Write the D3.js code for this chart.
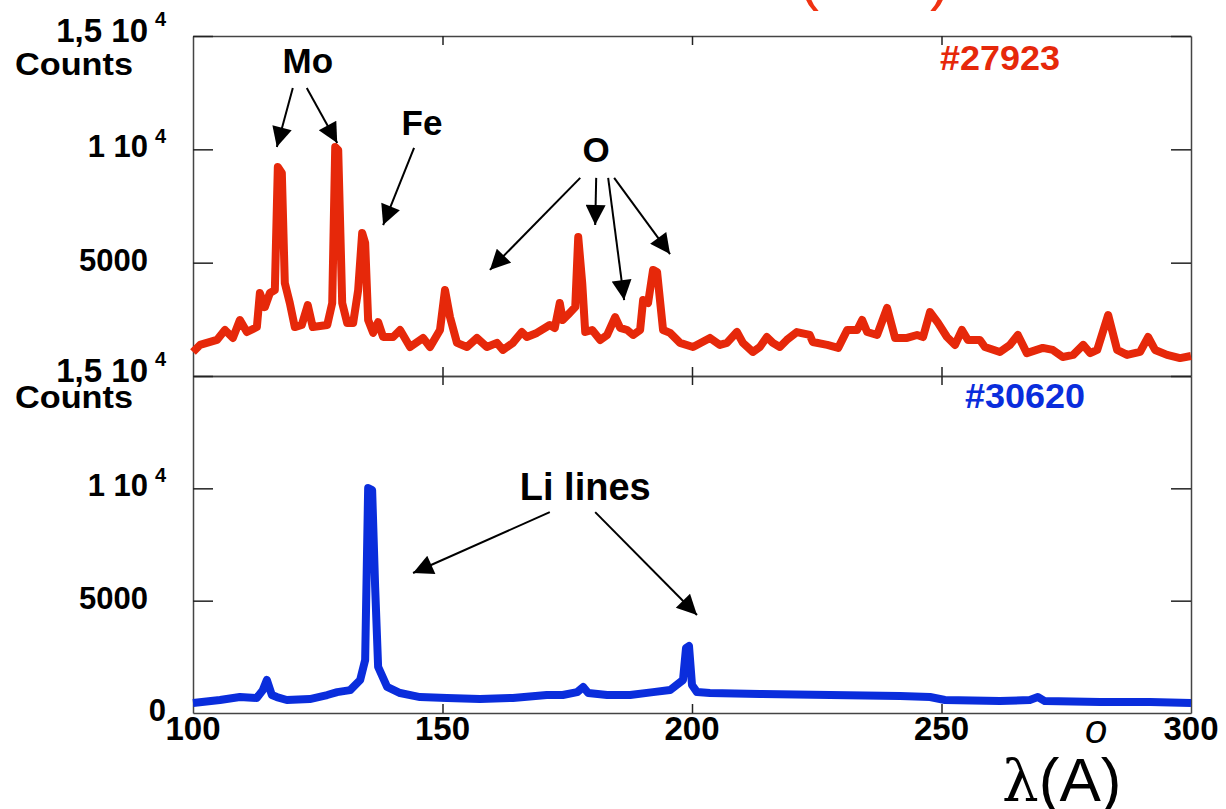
<!DOCTYPE html>
<html>
<head>
<meta charset="utf-8">
<script src="https://cdn.jsdelivr.net/npm/d3@7"></script>
<style>
  body { margin: 0; background: #fff; }
  svg { display: block; }
  text { font-family: "Liberation Sans", Arial, sans-serif; }
</style>
</head>
<body>
<script>
// spectra: wavelength (A) and counts
let redLambda = [100.0, 101.4, 104.8, 106.4, 108.0, 109.4, 110.8, 112.8, 113.4, 114.4, 115.4, 116.4, 117.0, 117.8,
  118.4, 119.4, 120.4, 121.8, 123.0, 124.0, 126.9, 127.9, 128.5, 129.1, 129.9, 130.9, 132.1, 133.1, 133.9, 134.5,
  135.1, 136.1, 137.1, 138.1, 140.1, 141.5, 143.5, 146.1, 147.5, 149.5, 150.5, 151.5, 152.9, 154.9, 156.9, 158.9,
  160.9, 162.1, 164.1, 165.9, 166.9, 168.9, 171.5, 172.5, 173.5, 174.1, 175.1, 176.6, 177.2, 178.0, 178.6, 180.0,
  181.6, 183.0, 184.6, 185.6, 187.0, 188.2, 189.6, 190.2, 191.2, 192.2, 193.0, 194.2, 195.6, 197.6, 200.2, 203.6,
  205.6, 207.0, 209.0, 210.2, 212.2, 213.6, 215.0, 216.2, 217.6, 219.0, 221.0, 223.6, 224.2, 227.1, 229.3, 231.1,
  233.1, 234.1, 235.1, 237.1, 239.1, 240.7, 243.1, 245.1, 246.3, 247.7, 249.3, 251.1, 252.7, 254.1, 255.3, 257.7,
  258.7, 261.7, 263.7, 265.3, 267.1, 270.3, 272.3, 274.3, 276.4, 278.4, 279.8, 281.2, 283.4, 285.2, 287.2, 289.8,
  291.4, 292.8, 295.2, 297.8, 300.0]
let redCounts = [1060, 1370, 1590, 2030, 1680, 2470, 1940, 2160, 3660, 3040, 3660, 3790, 9220, 8960,
  4100, 3220, 2160, 2250, 3130, 2160, 2250, 3220, 10100, 9970, 3220, 2340, 2340, 3790, 6310, 5870,
  2470, 1900, 2380, 1720, 1720, 2030, 1280, 1680, 1280, 2030, 3790, 2600, 1460, 1280, 1680, 1280,
  1460, 1150, 1460, 1940, 1720, 1900, 2250, 2120, 3220, 2470, 2690, 3040, 6130, 4100, 1940, 2030,
  1590, 1810, 2600, 2120, 2030, 1810, 2030, 3350, 3220, 4680, 4590, 2030, 1900, 1460, 1280, 1680,
  1370, 1460, 1940, 1460, 1060, 1280, 1720, 1460, 1280, 1590, 1940, 1810, 1500, 1370, 1240, 2030,
  2030, 2470, 1940, 1810, 3000, 1680, 1680, 1810, 1720, 2820, 2340, 1720, 1370, 2030, 1590, 1590,
  1280, 1060, 1370, 1810, 1010, 1240, 1150, 840, 930, 1370, 1010, 1150, 2690, 1150, 930, 1060,
  1720, 1150, 930, 790, 880]

let blueLambda = [100.0, 105.4, 109.4, 112.8, 114.0, 114.8, 115.8, 116.8, 118.8, 123.4, 126.9, 128.9, 131.5,
  133.5, 134.5, 135.1, 135.9, 136.5, 137.1, 138.9, 141.5, 145.5, 150.9, 157.5, 164.1, 170.9, 174.1, 177.0,
  178.2, 179.2, 183.0, 187.6, 192.2, 195.6, 198.2, 198.8, 199.4, 200.0, 201.0, 203.6, 213.6, 227.7, 241.7,
  247.7, 250.7, 261.7, 267.7, 269.3, 270.7, 281.8, 291.8, 300.0]
let blueCounts = [445, 580, 710, 670, 1020, 1470, 800, 710, 580, 620, 800, 930, 1020,
  1470, 2360, 10010, 9920, 5610, 2050, 1160, 890, 710, 670, 620, 670, 800, 800, 930,
  1160, 890, 800, 800, 930, 1020, 1470, 2890, 2980, 1250, 930, 890, 850, 800, 760,
  710, 580, 530, 580, 710, 530, 490, 490, 445]

let xTicks = [100, 150, 200, 250, 300]
let yTicks = [0, 5000, 10000, 15000]
let yTickText = ['0', '5000', '1 10', '1,5 10']
let yTickExp = ['', '', '4', '4']

// annotations: label, label position, arrows [from, to] in data units
let topNotes = [
  {text: 'Mo', at: [123.0, 13370], arrows: [[[120.0, 12710], [116.8, 10100]], [[122.8, 12710], [128.9, 10280]]]},
  {text: 'Fe', at: [145.9, 10630], arrows: [[[144.3, 10060], [138.1, 6660]]]},
  {text: 'O', at: [180.8, 9440], arrows: [[[177.6, 8740], [159.5, 4680]], [[180.8, 8740], [180.6, 6660]],
    [[183.2, 8740], [186.4, 3350]], [[184.4, 8740], [195.6, 5380]]]}
]
let bottomNotes = [
  {text: 'Li lines', at: [178.6, 9480], arrows: [[[171.5, 8940], [144.1, 6230]], [[180.6, 8940], [201.0, 4360]]]}
]

let width = 1226, height = 809
let red = '#e6280a', blue = '#0a2ddc'

let x = d3.scaleLinear().domain([100, 300]).range([193, 1191])
let yTop = d3.scaleLinear().domain([0, 15000]).range([376, 36])
let yBot = d3.scaleLinear().domain([0, 15000]).range([713, 376])

let svg = d3.select('body').append('svg')
  .attr('width', width)
  .attr('height', height)

svg.append('defs').append('marker')
  .attr('id', 'head')
  .attr('viewBox', '0 0 10 10')
  .attr('refX', 10).attr('refY', 5)
  .attr('markerWidth', 22).attr('markerHeight', 20)
  .attr('markerUnits', 'userSpaceOnUse')
  .attr('orient', 'auto')
  .append('path').attr('d', 'M0,0L10,5L0,10Z').attr('fill', '#000')

// cut-off red title at the very top
svg.append('text').attr('x', 799).attr('y', -1).attr('fill', '#f03212')
  .attr('font-size', 60).text('(')
svg.append('text').attr('x', 930).attr('y', -1).attr('fill', '#f03212')
  .attr('font-size', 60).text(')')

function panel(y, lam, counts, color, tag, notes, showZero) {
  let g = svg.append('g')

  let frame = (sel) => sel.selectAll('path.domain').attr('stroke', '#444').attr('stroke-width', 1.5)
  let ticks = (sel) => sel.selectAll('.tick line').attr('stroke', '#222').attr('stroke-width', 1.5)

  let inner = xTicks.slice(1, -1)
  g.append('g').attr('transform', `translate(0,${y.range()[0]})`)
    .call(d3.axisBottom(x).tickValues(inner).tickSize(-9).tickSizeOuter(0).tickFormat(''))
    .call(frame).call(ticks)
  g.append('g').attr('transform', `translate(0,${y.range()[1]})`)
    .call(d3.axisTop(x).tickValues(inner).tickSize(-9).tickSizeOuter(0).tickFormat(''))
    .call(frame).call(ticks)
  g.append('g').attr('transform', `translate(${x.range()[0]},0)`)
    .call(d3.axisLeft(y).tickValues(yTicks.slice(1)).tickSize(-20).tickSizeOuter(0).tickFormat(''))
    .call(frame).call(ticks)
  g.append('g').attr('transform', `translate(${x.range()[1]},0)`)
    .call(d3.axisRight(y).tickValues(yTicks.slice(1)).tickSize(-20).tickSizeOuter(0).tickFormat(''))
    .call(frame).call(ticks)

  // y tick labels with superscripts
  yTicks.forEach((v, i) => {
    if (i == 0 && !showZero) return
    let ty = y(v) + (i == 3 ? 6 : 8)
    let tx = i == 0 ? 166 : 148
    g.append('text').attr('x', tx).attr('y', ty).attr('text-anchor', 'end')
      .attr('font-size', i == 3 ? 33 : 31).attr('font-weight', 'bold').text(yTickText[i])
    if (yTickExp[i])
      g.append('text').attr('x', 155).attr('y', ty - (i == 3 ? 16 : 14))
        .attr('font-size', 20).attr('font-weight', 'bold').text(yTickExp[i])
    if (i == 3)
      g.append('text').attr('x', 15).attr('y', ty + (showZero ? 26 : 33))
        .attr('font-size', 32).attr('font-weight', 'bold')
        .attr('textLength', 118).attr('lengthAdjust', 'spacingAndGlyphs').text('Counts')
  })

  let line = d3.line().x((d, i) => x(lam[i])).y((d) => y(d))
  g.append('path').datum(counts)
    .attr('d', line)
    .attr('fill', 'none')
    .attr('stroke', color)
    .attr('stroke-width', 8)
    .attr('stroke-linejoin', 'round')

  g.append('text').attr('x', x(tag.at[0])).attr('y', y(tag.at[1]))
    .attr('fill', color).attr('font-size', 35).attr('font-weight', 'bold')
    .attr('textLength', 120).attr('lengthAdjust', 'spacingAndGlyphs').text(tag.text)

  notes.forEach((n) => {
    g.append('text').attr('x', x(n.at[0])).attr('y', y(n.at[1]))
      .attr('text-anchor', 'middle').attr('font-size', n.text.length > 2 ? 38 : 35)
      .attr('font-weight', 'bold').text(n.text)
    n.arrows.forEach((a) => {
      g.append('line')
        .attr('x1', x(a[0][0])).attr('y1', y(a[0][1]))
        .attr('x2', x(a[1][0])).attr('y2', y(a[1][1]))
        .attr('stroke', '#000').attr('stroke-width', 2)
        .attr('marker-end', 'url(#head)')
    })
  })
}

panel(yTop, redLambda, redCounts, red, {text: '#27923', at: [249.7, 13500]}, topNotes, false)
panel(yBot, blueLambda, blueCounts, blue, {text: '#30620', at: [254.7, 13570]}, bottomNotes, true)

// x tick labels under the lower panel
svg.append('g').selectAll('text').data(xTicks).enter()
  .append('text')
  .attr('x', (d) => x(d))
  .attr('y', 740)
  .attr('text-anchor', 'middle')
  .attr('font-size', 33)
  .attr('font-weight', 'bold')
  .text((d) => d)

// axis title: lambda (A) with the ring drawn as a raised o
let title = svg.append('text').attr('x', 1002).attr('y', 801).attr('font-size', 62)
title.append('tspan').attr('font-family', '"DejaVu Serif", serif').attr('font-size', 58).text('λ')
title.append('tspan').text('(A)')
svg.append('text').attr('x', 1085).attr('y', 743)
  .attr('font-family', '"Liberation Serif", serif').attr('font-style', 'italic')
  .attr('font-size', 40).text('o')
</script>
</body>
</html>
